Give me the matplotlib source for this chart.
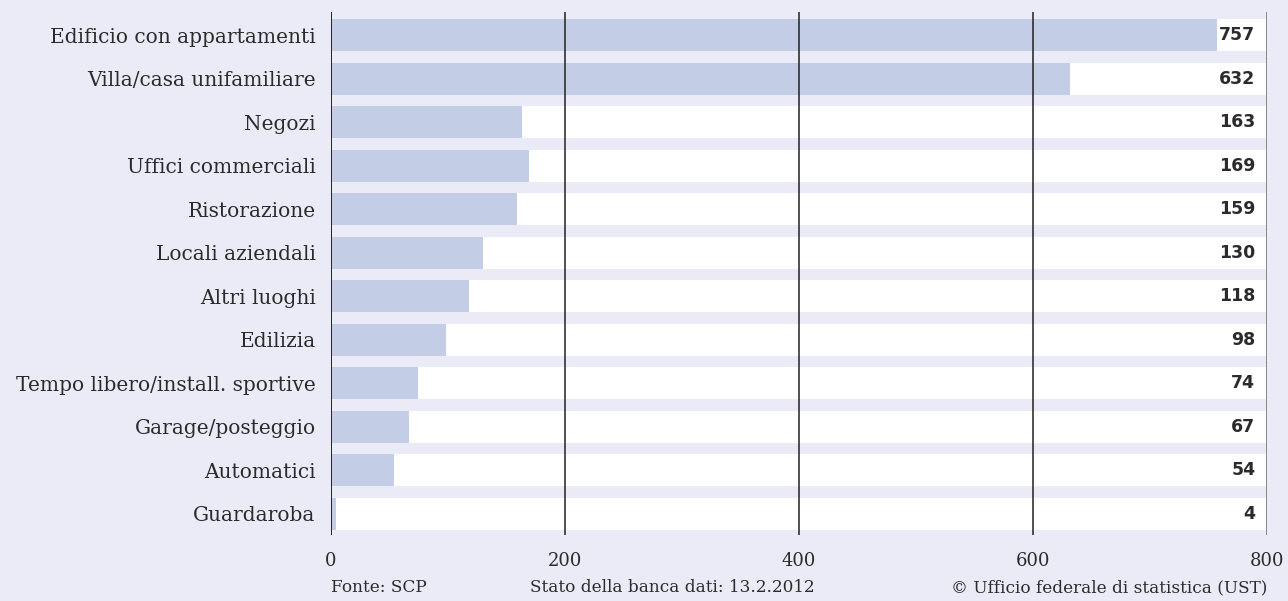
import matplotlib
matplotlib.use("Agg")
import matplotlib.pyplot as plt

categories = ["Edificio con appartamenti", "Villa/casa unifamiliare", "Negozi",
              "Uffici commerciali", "Ristorazione", "Locali aziendali", "Altri luoghi",
              "Edilizia", "Tempo libero/install. sportive", "Garage/posteggio",
              "Automatici", "Guardaroba"]
values = [757, 632, 163, 169, 159, 130, 118, 98, 74, 67, 54, 4]
xticks = [0, 200, 400, 600, 800]

BG = "#ebebf7"
BAR = "#c3cde6"
TXT = "#2b2b2b"

plt.rcParams['font.family'] = ['DejaVu Serif']

fig = plt.figure(figsize=(12.88, 6.01), dpi=100, facecolor=BG)
ax = fig.add_axes([331/1288, 1-535/601, (1267-331)/1288, (535-12)/601])
ax.set_facecolor(BG)

y = list(range(len(categories)))
h = 0.736
ax.barh(y, [800]*len(y), height=h, color="white", zorder=1)
ax.barh(y, values, height=h, color=BAR, zorder=2)
for yi, v in zip(y, values):
    ax.text(790, yi, str(v), ha="right", va="center", fontsize=12.5,
            fontweight="bold", color=TXT, zorder=4, family="DejaVu Sans")

for xv in [200, 400, 600]:
    ax.axvline(xv, color="#222222", lw=1.1, zorder=3)
ax.axvline(0, color="#222222", lw=1.4, zorder=3)
ax.axvline(800, color="#888888", lw=1.4, zorder=3)

ax.set_xlim(0, 800)
ax.set_ylim(11.483, -0.529)
ax.set_yticks(y)
ax.set_yticklabels(categories, fontsize=14.5, color=TXT)
ax.set_xticks(xticks)
ax.set_xticklabels([str(t) for t in xticks], fontsize=13, color=TXT)
ax.tick_params(length=0, axis="y", pad=11)
ax.tick_params(length=0, axis="x", pad=12)
for s in ax.spines.values():
    s.set_visible(False)

fig.text(331/1288, 1-588/601, "Fonte: SCP", fontsize=12.2, color=TXT, va="center", ha="left")
fig.text(530/1288, 1-588/601, "Stato della banca dati: 13.2.2012", fontsize=12.2, color=TXT, va="center", ha="left")
fig.text(1267/1288, 1-588/601, "© Ufficio federale di statistica (UST)", fontsize=12.2, color=TXT, va="center", ha="right")

fig.savefig("out.png", dpi=100, facecolor=BG)
